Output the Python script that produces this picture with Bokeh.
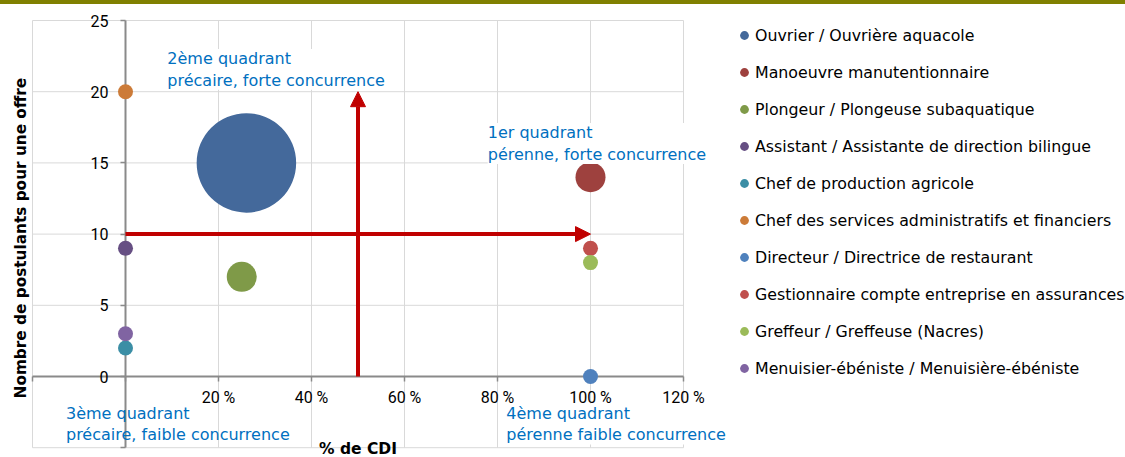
import math
from bokeh.plotting import figure
from bokeh.models import (LinearAxis, FixedTicker, Label, Arrow, NormalHead, Legend,
                          LegendItem, Div, ColumnDataSource, Range1d)
from bokeh.layouts import column
from bokeh.embed import file_html
from bokeh.resources import INLINE

# ---------------- data ----------------
jobs = [
    "Ouvrier / Ouvrière aquacole",
    "Manoeuvre manutentionnaire",
    "Plongeur / Plongeuse subaquatique",
    "Assistant / Assistante de direction bilingue",
    "Chef de production agricole",
    "Chef des services administratifs et financiers",
    "Directeur / Directrice de restaurant",
    "Gestionnaire compte entreprise en assurances",
    "Greffeur / Greffeuse (Nacres)",
    "Menuisier-ébéniste / Menuisière-ébéniste",
]
cdi_pct = [26, 100, 25, 0, 0, 0, 100, 100, 100, 0]
postulants = [15, 14, 7, 9, 2, 20, 0, 9, 8, 3]
bubble_size = [44, 4, 4, 1, 1, 1, 1, 1, 1, 1]
colors = ["#44699B", "#9E413E", "#7F9A48", "#664F83", "#3B8EA5",
          "#CC7B38", "#4F81BD", "#C0504D", "#9BBB59", "#8064A2"]

x_ticks = [-20, 0, 20, 40, 60, 80, 100, 120]
x_tick_labels = ["", "", "20 %", "40 %", "60 %", "80 %", "100 %", "120 %"]
y_ticks = [-5, 0, 5, 10, 15, 20, 25]
y_tick_labels = ["", "0", "5", "10", "15", "20", "25"]

x_title = "% de CDI"
y_title = "Nombre de postulants pour une offre"

quadrant_texts = [
    "2ème quadrant\nprécaire, forte concurrence",
    "1er quadrant\npérenne, forte concurrence",
    "3ème quadrant\nprécaire, faible concurrence",
    "4ème quadrant\npérenne faible concurrence",
]
quadrant_x = [9, 77.9, -12.8, 81.9]
quadrant_y = [23, 17.8, -1.9, -1.9]
quadrant_bg = ["white", "white", None, "white"]

# threshold arrows: (x_start, y_start, x_end, y_end)
arrows = [(0, 10, 100, 10), (50, 0, 50, 20)]

# ---------------- layout constants (pixels) ----------------
BAR_H = 4
CANVAS_W, CANVAS_H = 1125, 453
X0_PX, PX_PER_X = 125, 4.65          # window x of 0 %, px per %
Y0_PX, PX_PER_Y = 376, 14.24         # window y of 0, px per unit
x_start = (0 - X0_PX) / PX_PER_X
x_end = (CANVAS_W - X0_PX) / PX_PER_X
y_end = (Y0_PX - BAR_H) / PX_PER_Y
y_start = (Y0_PX - (BAR_H + CANVAS_H)) / PX_PER_Y

FONT = "DejaVu Sans"
AXIS_COLOR = "#8A8A8A"
GRID_COLOR = "#D9D9D9"
RED = "#C00000"
BLUE_TXT = "#0070C0"

p = figure(width=CANVAS_W, height=CANVAS_H, output_backend="svg", toolbar_location=None,
           x_range=Range1d(x_start, x_end), y_range=Range1d(y_start, y_end),
           x_axis_location=None, y_axis_location=None,
           min_border=0, background_fill_color="white", border_fill_color="white")
p.outline_line_color = None
p.xgrid.visible = False
p.ygrid.visible = False

# grid lines limited to the plot area (-20..120 x -5..25)
p.segment(x0=x_ticks, x1=x_ticks, y0=[y_ticks[0]] * len(x_ticks), y1=[y_ticks[-1]] * len(x_ticks),
          line_color=GRID_COLOR, line_width=1, level="image")
p.segment(x0=[x_ticks[0]] * len(y_ticks), x1=[x_ticks[-1]] * len(y_ticks), y0=y_ticks, y1=y_ticks,
          line_color=GRID_COLOR, line_width=1, level="image")

xaxis = LinearAxis(fixed_location=0, ticker=FixedTicker(ticks=x_ticks),
                   bounds=(x_ticks[0], x_ticks[-1]),
                   major_label_overrides={t: l for t, l in zip(x_ticks, x_tick_labels)})
yaxis = LinearAxis(fixed_location=0, ticker=FixedTicker(ticks=y_ticks),
                   bounds=(y_ticks[0], y_ticks[-1]),
                   major_label_overrides={t: l for t, l in zip(y_ticks, y_tick_labels)})
for ax in (xaxis, yaxis):
    ax.level = "underlay"
    ax.axis_line_color = AXIS_COLOR
    ax.axis_line_width = 2
    ax.major_tick_line_color = AXIS_COLOR
    ax.major_tick_line_width = 1.5
    ax.major_tick_in = 0
    ax.major_tick_out = 5
    ax.minor_tick_line_color = None
    ax.major_label_text_font = "Roboto"
    ax.major_label_text_font_size = "16px"
    ax.major_label_text_color = "#000000"
xaxis.major_label_standoff = 6
yaxis.major_label_standoff = 12
p.add_layout(xaxis, "below")
p.add_layout(yaxis, "left")

items = []
for name, x, y, s, c in zip(jobs, cdi_pct, postulants, bubble_size, colors):
    src = ColumnDataSource(dict(x=[x], y=[y], size=[15 * math.sqrt(s)]))
    r = p.scatter("x", "y", size="size", source=src, fill_color=c, line_color=None)
    items.append(LegendItem(label=name, renderers=[r]))

for t, qx, qy, bg in zip(quadrant_texts, quadrant_x, quadrant_y, quadrant_bg):
    p.add_layout(Label(x=qx, y=qy, text=t, text_font=FONT, text_font_size="16px",
                       text_color=BLUE_TXT, text_baseline="top", text_align="left",
                       text_line_height=1.15, background_fill_color=bg))

for (x0, y0, x1, y1) in arrows:
    p.add_layout(Arrow(x_start=x0, y_start=y0, x_end=x1, y_end=y1,
                       line_color=RED, line_width=4,
                       end=NormalHead(size=15, fill_color=RED, line_color=RED, line_width=1)))

p.add_layout(Label(x=50, y=y_start, y_offset=0, text=x_title, text_font=FONT,
                   text_font_size="15.5px", text_font_style="bold", text_color="#000000",
                   text_align="center", text_baseline="bottom"))
p.add_layout(Label(x=x_ticks[0], y=10, x_offset=-12, y_offset=-4, text=y_title,
                   angle=math.pi / 2, text_font=FONT, text_font_size="15.3px",
                   text_font_style="bold", text_color="#000000",
                   text_align="center", text_baseline="middle"))

LEG_H = 10 * 22 + 9 * 15
legend = Legend(items=items, location=(733, BAR_H + CANVAS_H - 24 - LEG_H),
                orientation="vertical",
                margin=0, padding=0, spacing=15, glyph_width=22, glyph_height=22,
                label_height=22, label_standoff=0, label_text_font=FONT,
                label_text_font_size="15.8px", label_text_color="#000000",
                border_line_color=None, background_fill_alpha=0)
p.add_layout(legend, "center")

bar = Div(text="", width=CANVAS_W, height=BAR_H, margin=0,
          styles={"background-color": "#808000"})
layout = column(bar, p, spacing=0)

open("out.html", "w").write(file_html(layout, INLINE))
